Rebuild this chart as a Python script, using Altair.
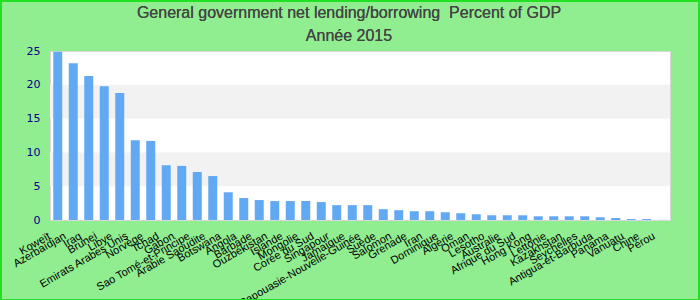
import altair as alt
import pandas as pd

countries = ["Koweït", "Azerbaïdjan", "Iraq", "Brunei", "Libye", "Emirats Arabes Unis",
             "Norvège", "Tchad", "Gabon", "Sao Tomé-et-Principe", "Arabie Saoudite",
             "Botswana", "Angola", "Barbade", "Ouzbékistan", "Islande", "Mongolie",
             "Corée du Sud", "Singapour", "Jamaïque", "Papouasie-Nouvelle-Guinée", "Suède",
             "Salomon", "Grenade", "Iran", "Dominique", "Algérie", "Oman", "Lesotho",
             "Australie", "Afrique du Sud", "Hong Kong", "Lettonie", "Kazakhstan",
             "Seychelles", "Antigua-et-Barbuda", "Panama", "Vanuatu", "Chine", "Pérou"]
values = [24.9, 23.2, 21.3, 19.8, 18.8, 11.8, 11.7, 8.1, 8.0, 7.1, 6.5,
          4.1, 3.25, 2.95, 2.8, 2.8, 2.8, 2.65, 2.2, 2.2, 2.2, 1.6,
          1.45, 1.3, 1.3, 1.15, 1.0, 0.85, 0.7, 0.7, 0.7, 0.55, 0.55, 0.55,
          0.55, 0.4, 0.3, 0.15, 0.15, 0.02]
y_ticks = [0, 5, 10, 15, 20, 25]
band_lo = [5, 15]
band_hi = [10, 20]
title_lines = ["General government net lending/borrowing\u00a0 Percent of GDP", "Année 2015"]

df = pd.DataFrame({"pays": countries, "valeur": values})
bands = pd.DataFrame({"lo": band_lo, "hi": band_hi})

W, H = 620, 169

yscale = alt.Scale(domain=[0, 25], nice=False, zero=True)
yaxis = alt.Axis(values=y_ticks, labelFontSize=11, labelFont="DejaVu Sans",
                 labelColor="#00008b", labelPadding=10, ticks=False,
                 domain=False, grid=False)

stripes = alt.Chart(bands).mark_rect(color="#f2f2f2").encode(
    x=alt.value(0), x2=alt.value(W),
    y=alt.Y("lo:Q", scale=yscale, axis=yaxis, title=None),
    y2="hi:Q",
)

bars = alt.Chart(df).mark_bar(color="#62a9f3").encode(
    x=alt.X("pays:N", sort=None, title=None,
            scale=alt.Scale(paddingInner=0.42, paddingOuter=0.21),
            axis=alt.Axis(labelAngle=-30, labelAlign="right", labelBaseline="middle",
                          labelFontSize=11, labelFont="Liberation Sans", labelColor="#000000",
                          labelOverlap=False, labelLimit=300, labelPadding=15,
                          labelOffset=-8, ticks=False, domain=False, grid=False)),
    y=alt.Y("valeur:Q", scale=yscale, title=None, axis=yaxis),
    tooltip=["pays", "valeur"],
)

t1 = alt.Chart(bands).mark_text(text=title_lines[0], fontSize=16, font="Liberation Sans",
                                color="#444444", baseline="middle", align="center").encode(
    x=alt.value(299), y=alt.value(-38))
t2 = alt.Chart(bands).mark_text(text=title_lines[1], fontSize=16, font="Liberation Sans",
                                color="#444444", baseline="middle", align="center").encode(
    x=alt.value(299), y=alt.value(-15))

border = alt.Chart(bands).mark_rect(fill=None, stroke="#22e022", strokeWidth=2).encode(
    x=alt.value(-49), x2=alt.value(W + 29), y=alt.value(-50), y2=alt.value(H + 80)
)

chart = alt.layer(stripes, bars, t1, t2, border).properties(
    width=W, height=H,
    autosize=alt.AutoSizeParams(type="none"),
    padding={"left": 50, "top": 51, "right": 30, "bottom": 80},
    background="#90ee90",
).configure_view(fill="#ffffff", stroke="#d8d8d8", strokeWidth=1)

chart.save("out.html", embed_options={"renderer": "svg", "actions": False})
